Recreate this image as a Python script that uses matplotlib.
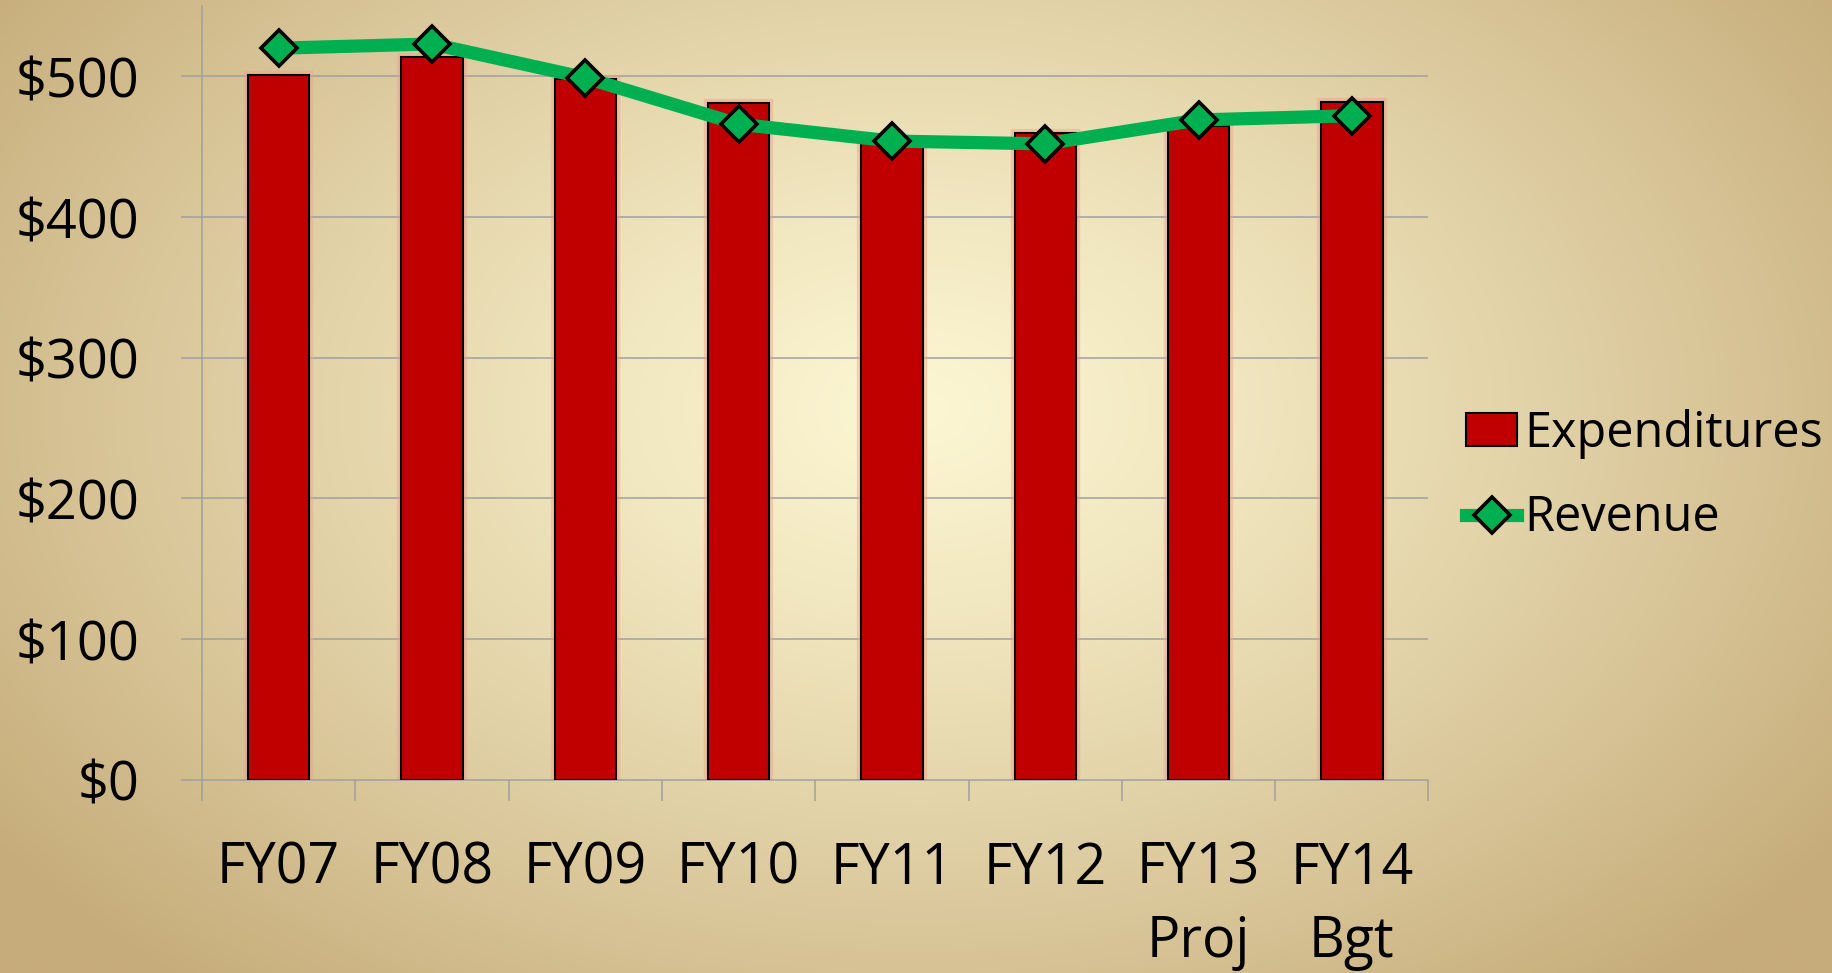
import numpy as np
import matplotlib
matplotlib.use("Agg")
import matplotlib.pyplot as plt
from matplotlib.lines import Line2D
from matplotlib.patches import Patch

categories = ['FY07', 'FY08', 'FY09', 'FY10', 'FY11', 'FY12', 'FY13\nProj', 'FY14\nBgt']
expenditures = [501, 514, 498, 481, 455, 460, 465, 482]
revenue = [520, 523, 499, 466, 454, 452, 469, 472]
yticks = [0, 100, 200, 300, 400, 500]
ytick_labels = ['$0', '$100', '$200', '$300', '$400', '$500']

plt.rcParams['font.family'] = ['Open Sans', 'DejaVu Sans']

W, H, DPI = 1833, 973, 100
fig = plt.figure(figsize=(W / DPI, H / DPI), dpi=DPI)

# background radial gradient
bg = fig.add_axes([0, 0, 1, 1], zorder=-10)
yy, xx = np.mgrid[0:1:300j, 0:1:560j]
d = np.sqrt(((xx - 0.50) / 0.62) ** 2 + ((yy - 0.42) / 0.78) ** 2)
t = np.clip(d, 0, 1) ** 1.2
inner = np.array([0xFC, 0xF6, 0xD2]) / 255.0
outer = np.array([0xC6, 0xAC, 0x7A]) / 255.0
img = inner[None, None, :] * (1 - t[..., None]) + outer[None, None, :] * t[..., None]
bg.imshow(img, aspect='auto', extent=[0, 1, 0, 1], origin='upper', interpolation='bilinear')
bg.set_axis_off()

left = 202 / W
right = 1428.5 / W
bottom = 1 - 779.7 / H
top = 1 - 6 / H
ax = fig.add_axes([left, bottom, right - left, top - bottom])
ax.set_facecolor('none')

x = np.arange(len(categories))
grid_c = '#A0A0A0'

# gridlines
for v in yticks[1:]:
    ax.axhline(v, color=grid_c, lw=1.1, zorder=1)

# glow behind bars
ax.bar(x, expenditures, width=0.40, color='none', edgecolor='#F2A08A', linewidth=6, alpha=0.45, zorder=2)
ax.bar(x, expenditures, width=0.40, color='#C00000', edgecolor='black', linewidth=1.5, zorder=3)

ax.plot(x, revenue, color='#00B050', lw=9.5, zorder=4, solid_capstyle='round', solid_joinstyle='round')
ax.plot(x, revenue, linestyle='none', marker='D', markersize=18, markerfacecolor='#00B050',
        markeredgecolor='black', markeredgewidth=2.6, zorder=5)

ax.set_xlim(-0.5, len(categories) - 0.5)
ax.set_ylim(0, 550)

for s in ['top', 'right']:
    ax.spines[s].set_visible(False)
for s in ['left', 'bottom']:
    ax.spines[s].set_color(grid_c)
    ax.spines[s].set_linewidth(1.1)

ax.set_yticks(yticks)
ax.set_yticklabels(ytick_labels, fontsize=39)
ax.tick_params(axis='y', length=15, width=1.1, color=grid_c, pad=30, direction='out')

ax.set_xticks(x)
ax.set_xticklabels(categories, fontsize=40, linespacing=1.38)
ax.set_xticks(np.arange(-0.5, len(categories), 1.0), minor=True)
ax.tick_params(axis='x', which='major', length=0, pad=44)
ax.tick_params(axis='x', which='minor', length=15, width=1.1, color=grid_c, direction='out')

handles = [
    Patch(facecolor='#C00000', edgecolor='black', linewidth=1.5),
    Line2D([0], [0], color='#00B050', lw=9.5, marker='D', markersize=18,
           markerfacecolor='#00B050', markeredgecolor='black', markeredgewidth=2.6),
]
fig.legend(handles, ['Expenditures', 'Revenue'], loc='center left',
           bbox_to_anchor=(1466 / W, 1 - 476 / H), bbox_transform=fig.transFigure,
           frameon=False, fontsize=35, handlelength=1.05, handleheight=0.65,
           handletextpad=0.15, labelspacing=0.72, borderpad=0, borderaxespad=0)

fig.savefig('out.png', dpi=DPI)
